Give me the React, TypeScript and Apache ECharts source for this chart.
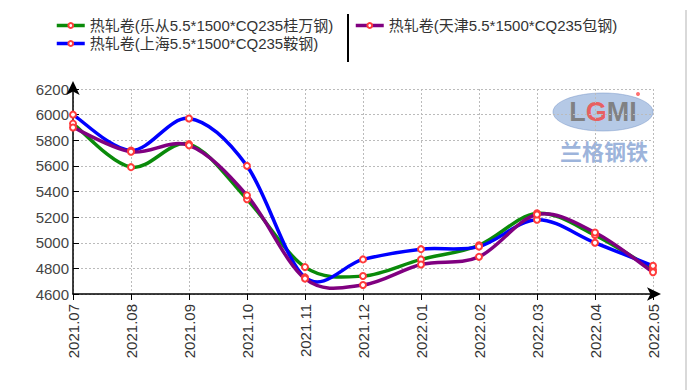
import React, { useEffect, useRef } from "react";
import * as echarts from "echarts";

const categories = ["2021.07","2021.08","2021.09","2021.10","2021.11","2021.12","2022.01","2022.02","2022.03","2022.04","2022.05"];
const nameLecong = "热轧卷(乐从5.5*1500*CQ235桂万钢)";
const nameShanghai = "热轧卷(上海5.5*1500*CQ235鞍钢)";
const nameTianjin = "热轧卷(天津5.5*1500*CQ235包钢)";
const lecong = [5930, 5590, 5770, 5340, 4810, 4740, 4870, 4980, 5230, 5060, 4790];
const shanghai = [6000, 5720, 5970, 5600, 4730, 4870, 4950, 4970, 5180, 5000, 4820];
const tianjin = [5900, 5710, 5760, 5370, 4720, 4670, 4830, 4890, 5220, 5080, 4770];
const yMin = 4600;
const yMax = 6200;
const yStep = 200;

const FONT = "'Liberation Sans', 'Noto Sans CJK SC', sans-serif";
const GREEN = "#0a8a0a";
const BLUE = "#0000ff";
const PURPLE = "#800080";

function splinePath(pts: number[][]): string {
  if (!pts.length) return "";
  let d = `M${pts[0][0]},${pts[0][1]}`;
  for (let i = 0; i < pts.length - 1; i++) {
    const p0 = pts[Math.max(0, i - 1)];
    const p1 = pts[i];
    const p2 = pts[i + 1];
    const p3 = pts[Math.min(pts.length - 1, i + 2)];
    const c1x = p1[0] + (p2[0] - p0[0]) / 6;
    const c1y = p1[1] + (p2[1] - p0[1]) / 6;
    const c2x = p2[0] - (p3[0] - p1[0]) / 6;
    const c2y = p2[1] - (p3[1] - p1[1]) / 6;
    d += ` C${c1x},${c1y} ${c2x},${c2y} ${p2[0]},${p2[1]}`;
  }
  return d;
}

export default function App() {
  const ref = useRef<HTMLDivElement>(null);
  useEffect(() => {
    if (!ref.current) return;
    const chart = echarts.init(ref.current, undefined, { renderer: "svg" });
    const markers = (name: string, data: number[]) => ({
      name,
      type: "line",
      data,
      symbol: "emptyCircle",
      symbolSize: 6,
      showSymbol: true,
      z: 3,
      lineStyle: { opacity: 0, width: 3.5 },
      itemStyle: { color: "#ff3b3b", borderColor: "#ff3b3b", borderWidth: 1.5 },
      emphasis: { disabled: true },
    });
    const curve = (name: string, data: number[], color: string) => ({
      name: name + "_curve",
      type: "custom",
      z: 2,
      silent: true,
      data: data.map((v, i) => [i, v]),
      encode: { x: 0, y: 1 },
      renderItem: (params: any, api: any) => {
        if (params.dataIndexInside !== 0) return null;
        const pts = data.map((v, i) => api.coord([i, v]));
        return {
          type: "path",
          shape: { pathData: splinePath(pts) },
          style: { fill: "none", stroke: color, lineWidth: 3.5, lineJoin: "round", lineCap: "round" },
        };
      },
    });
    const legendText = { fontSize: 15, color: "#333", fontFamily: FONT };
    const li = (name: string, color: string) => ({ name, lineStyle: { color, width: 3.5, opacity: 1 } });
    chart.setOption({
      animation: false,
      backgroundColor: "#ffffff",
      textStyle: { fontFamily: FONT },
      legend: [
        {
          left: 55,
          top: 18,
          padding: 0,
          orient: "vertical",
          itemGap: 3,
          itemWidth: 28,
          itemHeight: 6,
          data: [li(nameLecong, GREEN), li(nameShanghai, BLUE)],
          textStyle: legendText,
          selectedMode: false,
        },
        {
          left: 354,
          top: 18,
          padding: 0,
          orient: "vertical",
          itemWidth: 28,
          itemHeight: 6,
          data: [li(nameTianjin, PURPLE)],
          textStyle: legendText,
          selectedMode: false,
        },
      ],
      grid: { left: 73, right: 39, top: 89, bottom: 96, containLabel: false },
      xAxis: {
        type: "category",
        data: categories,
        boundaryGap: false,
        axisLine: {
          lineStyle: { color: "#000", width: 1.5 },
          symbol: ["none", "arrow"],
          symbolSize: [10, 14],
          symbolOffset: [0, 8],
        },
        axisTick: { show: true, alignWithLabel: true, length: 6, lineStyle: { color: "#000" } },
        axisLabel: { rotate: 90, fontSize: 15, color: "#333", margin: 10, fontFamily: FONT },
        splitLine: { show: true, lineStyle: { color: "#bbb", type: [2, 2], width: 1 } },
      },
      yAxis: {
        type: "value",
        min: yMin,
        max: yMax,
        interval: yStep,
        axisLine: {
          show: true,
          lineStyle: { color: "#000", width: 1.5 },
          symbol: ["none", "arrow"],
          symbolSize: [10, 14],
          symbolOffset: [0, 8],
        },
        axisTick: { show: true, inside: true, length: 6, lineStyle: { color: "#000" } },
        axisLabel: { fontSize: 15, color: "#444", margin: 4, fontFamily: FONT, formatter: (v: number) => String(v) },
        splitLine: { show: true, lineStyle: { color: "#bbb", type: [2, 2], width: 1 } },
      },
      series: [
        curve(nameLecong, lecong, GREEN),
        curve(nameShanghai, shanghai, BLUE),
        curve(nameTianjin, tianjin, PURPLE),
        markers(nameLecong, lecong),
        markers(nameShanghai, shanghai),
        markers(nameTianjin, tianjin),
      ],
      graphic: [
        { type: "line", shape: { x1: 348, y1: 14, x2: 348, y2: 62 }, style: { stroke: "#000", lineWidth: 2 } },
        { type: "line", shape: { x1: 686, y1: 10, x2: 686, y2: 390 }, style: { stroke: "#cccccc", lineWidth: 1.5 } },
        {
          type: "group",
          silent: true,
          children: [
            { type: "ellipse", shape: { cx: 603, cy: 112, rx: 50, ry: 19 }, style: { fill: "rgba(150,178,220,0.7)", stroke: "rgba(120,150,200,0.5)", lineWidth: 1 } },
            {
              type: "text",
              x: 603,
              y: 112,
              style: {
                text: "{g|L}{r|G}{g|MI}",
                align: "center",
                verticalAlign: "middle",
                rich: {
                  g: { fill: "rgba(125,125,125,0.95)", font: "bold 27px 'Liberation Sans'" },
                  r: { fill: "rgba(235,90,90,0.95)", font: "bold 27px 'Liberation Sans'" },
                },
              },
            },
            { type: "circle", shape: { cx: 638, cy: 94, r: 2 }, style: { fill: "#ff7070" } },
            { type: "text", x: 604, y: 150, style: { text: "兰格钢铁", fill: "rgba(130,160,210,0.8)", font: "bold 22px 'Noto Sans CJK SC'", align: "center", verticalAlign: "middle" } },
          ],
        },
      ],
    });
    return () => chart.dispose();
  }, []);
  return <div ref={ref} style={{ width: 692, height: 390, position: "absolute", left: 0, top: 0 }} />;
}
